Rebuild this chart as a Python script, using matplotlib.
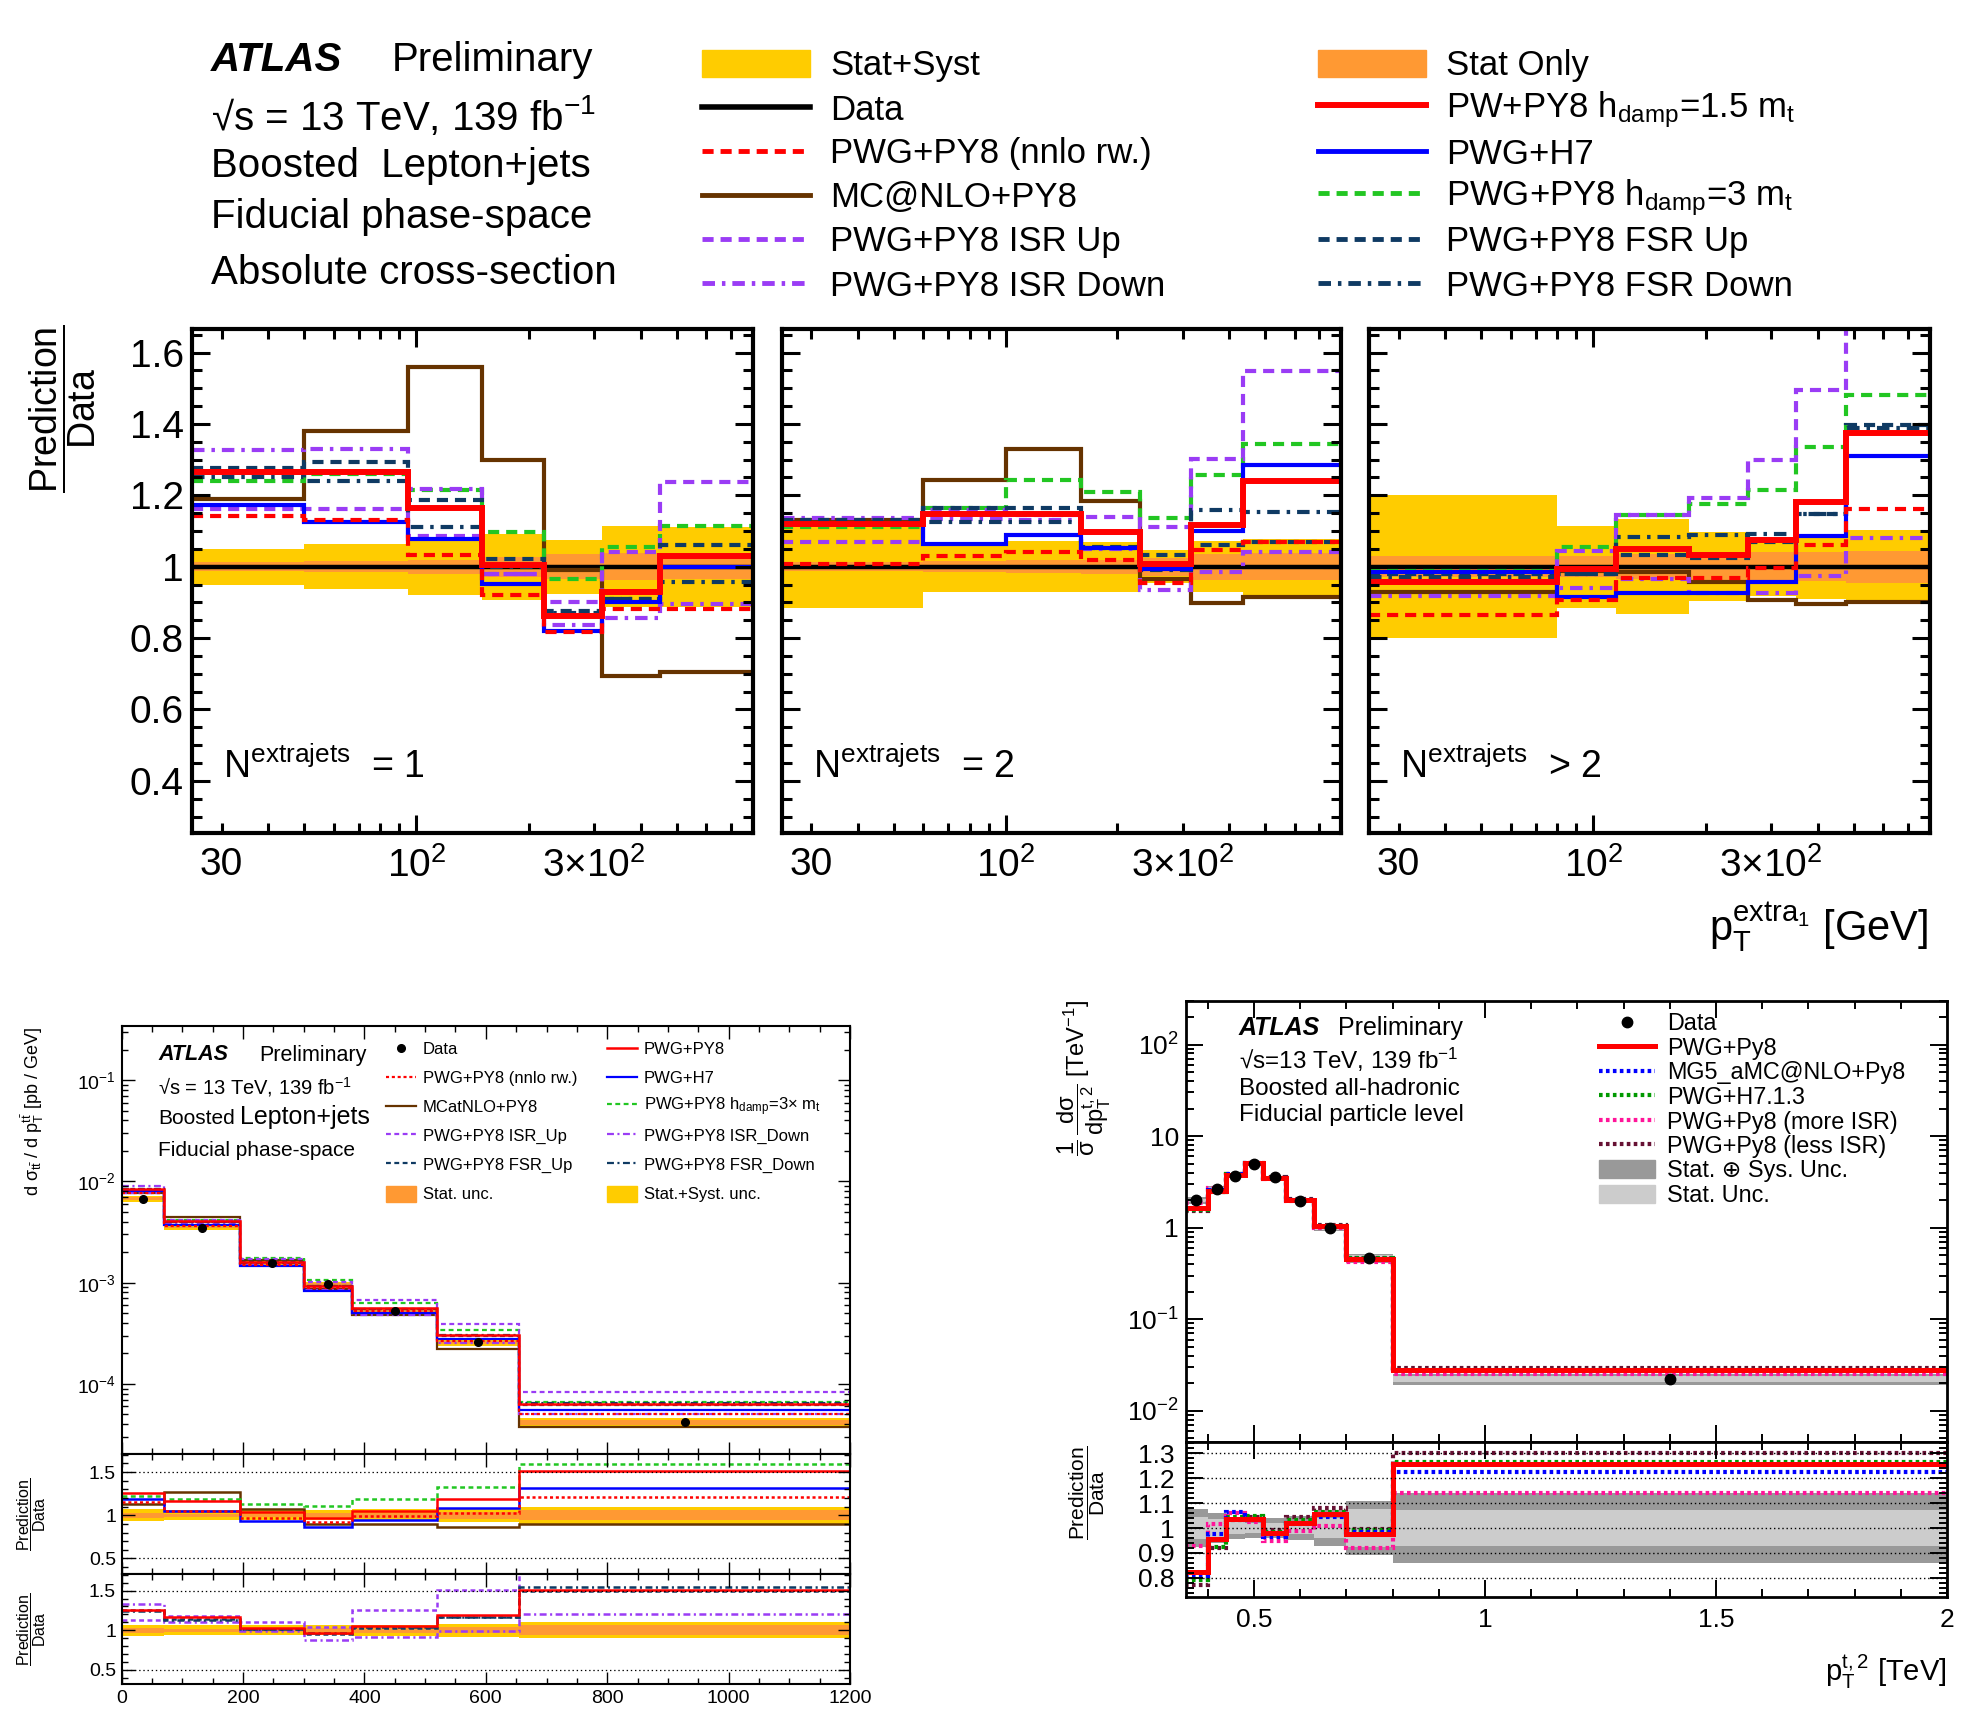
import numpy as np
import matplotlib
matplotlib.use('Agg')
import matplotlib.pyplot as plt
from matplotlib.lines import Line2D
from matplotlib.patches import Patch
from matplotlib.ticker import MultipleLocator, LogLocator, NullFormatter

plt.rcParams['font.family'] = ['Liberation Sans', 'DejaVu Sans']
plt.rcParams['mathtext.default'] = 'regular'
plt.rcParams['lines.scale_dashes'] = False

W, H = 1972, 1709

# ---------------- top: prediction/data vs pT of leading extra jet ----------------
nj_edges = [
    [25, 50, 95, 150, 220, 315, 450, 800],
    [25, 60, 100, 160, 230, 315, 435, 800],
    [25, 80, 115, 180, 260, 350, 475, 800],
]
nj_text = ['= 1', '= 2', '> 2']
top_statsyst = [
    [0.05, 0.063, 0.078, 0.093, 0.076, 0.114, 0.112],
    [0.115, 0.07, 0.072, 0.07, 0.047, 0.072, 0.078],
    [0.2, 0.115, 0.133, 0.097, 0.082, 0.09, 0.102],
]
top_stat = [
    [0.012, 0.015, 0.02, 0.028, 0.035, 0.038, 0.035],
    [0.012, 0.015, 0.018, 0.02, 0.025, 0.037, 0.038],
    [0.03, 0.03, 0.035, 0.04, 0.04, 0.04, 0.045],
]
top_mcnlo = [
    [1.19, 1.38, 1.56, 1.30, 0.99, 0.695, 0.705],
    [1.13, 1.242, 1.329, 1.185, 0.967, 0.897, 0.916],
    [0.93, 0.988, 0.984, 0.958, 0.907, 0.895, 0.902],
]
top_pwpy8 = [
    [1.266, 1.266, 1.165, 1.005, 0.863, 0.928, 1.031],
    [1.121, 1.149, 1.149, 1.098, 1.009, 1.116, 1.24],
    [0.956, 0.993, 1.049, 1.034, 1.075, 1.182, 1.376],
]
top_h7 = [
    [1.174, 1.124, 1.079, 0.951, 0.82, 0.902, 1.0],
    [1.12, 1.065, 1.09, 1.053, 0.995, 1.1, 1.284],
    [0.986, 0.916, 0.927, 0.925, 0.956, 1.087, 1.31],
]
top_nnlo = [
    [1.143, 1.13, 1.033, 0.921, 0.818, 0.882, 0.882],
    [1.009, 1.031, 1.04, 1.019, 0.953, 1.047, 1.068],
    [0.865, 0.907, 0.969, 0.969, 0.997, 1.062, 1.163],
]
top_hdamp3 = [
    [1.24, 1.26, 1.214, 1.098, 0.967, 1.056, 1.115],
    [1.112, 1.165, 1.244, 1.208, 1.137, 1.258, 1.345],
    [0.988, 1.056, 1.144, 1.177, 1.214, 1.336, 1.482],
]
top_isrup = [
    [1.161, 1.161, 1.087, 0.981, 0.90, 1.04, 1.238],
    [1.07, 1.158, 1.144, 1.14, 1.11, 1.303, 1.547],
    [0.96, 1.044, 1.144, 1.193, 1.3, 1.494, 1.668],
]
top_isrdn = [
    [1.326, 1.331, 1.217, 0.981, 0.837, 0.856, 0.895],
    [1.137, 1.135, 1.13, 1.05, 0.935, 0.986, 1.042],
    [0.919, 0.939, 0.967, 0.925, 0.925, 0.975, 1.081],
]
top_fsrup = [
    [1.277, 1.292, 1.188, 1.023, 0.876, 0.91, 1.061],
    [1.13, 1.165, 1.165, 1.056, 1.033, 1.06, 1.07],
    [0.981, 0.981, 1.034, 1.025, 1.07, 1.149, 1.396],
]
top_fsrdn = [
    [1.252, 1.24, 1.11, 1.0, 0.87, 0.91, 0.956],
    [1.12, 1.124, 1.126, 1.053, 0.99, 1.158, 1.154],
    [0.972, 0.98, 1.084, 1.09, 1.093, 1.149, 1.39],
]

# ---------------- bottom left: d sigma / d pT(ttbar), lepton+jets ----------------
bl_edges = [0, 70, 195, 300, 380, 520, 655, 1200]
bl_data = [6.74e-3, 3.5e-3, 1.556e-3, 9.64e-4, 5.29e-4, 2.57e-4, 4.18e-5]
bl_statsyst = [0.07, 0.06, 0.06, 0.06, 0.07, 0.08, 0.1]
bl_stat = [0.03, 0.02, 0.02, 0.025, 0.03, 0.04, 0.06]
bl_pwpy8 = [1.255, 1.169, 1.033, 0.967, 1.053, 1.189, 1.512]
bl_h7 = [1.189, 1.053, 0.936, 0.866, 0.947, 1.084, 1.317]
bl_hdamp3 = [1.227, 1.189, 1.13, 1.111, 1.189, 1.325, 1.59]
bl_nnlo = [1.15, 1.045, 0.967, 0.928, 0.994, 1.021, 1.208]
bl_mcnlo = [1.13, 1.266, 1.072, 0.897, 0.897, 0.866, 0.897]
bl_isrup = [1.13, 1.183, 1.109, 1.043, 1.261, 1.509, 1.98]
bl_isrdn = [1.335, 1.109, 0.987, 0.87, 0.913, 0.987, 1.204]
bl_fsrup = [1.25, 1.14, 1.02, 0.957, 1.03, 1.161, 1.491]
bl_fsrdn = [1.24, 1.13, 1.01, 0.96, 1.04, 1.17, 1.543]

# ---------------- bottom right: 1/sigma d sigma / d pT(t,2), all-hadronic ----------------
br_edges = [0.35, 0.4, 0.44, 0.48, 0.52, 0.57, 0.63, 0.7, 0.8, 2.0]
br_data = [1.99, 2.67, 3.66, 4.9, 3.57, 1.96, 0.98, 0.465, 0.0223]
br_tot = [0.077, 0.06, 0.045, 0.04, 0.04, 0.05, 0.072, 0.11, 0.14]
br_stat = [0.045, 0.036, 0.025, 0.02, 0.02, 0.025, 0.04, 0.075, 0.074]
br_pwpy8 = [0.824, 0.954, 1.036, 1.036, 0.979, 1.021, 1.055, 0.976, 1.259]
br_mg5 = [0.807, 0.975, 1.066, 1.032, 0.965, 1.016, 1.046, 0.985, 1.227]
br_h713 = [0.791, 0.925, 1.046, 1.05, 0.985, 1.032, 1.066, 0.992, 1.265]
br_moreisr = [0.928, 1.016, 1.062, 1.025, 0.949, 0.988, 1.008, 0.918, 1.142]
br_lessisr = [0.771, 0.918, 1.032, 1.043, 0.992, 1.043, 1.079, 0.997, 1.303]

# colours and line styles
YELLOW = '#ffcc00'
ORANGE = '#ff9933'
RED = '#ff0000'
BLUE = '#0000ff'
BROWN = '#663300'
GREEN = '#22c622'
PURPLE = '#9a3cf5'
NAVY = '#0f3a63'
DKGREEN = '#009900'
MAGENTA = '#ff1499'
MAROON = '#661133'
GRAY_D = '#999999'
GRAY_L = '#cccccc'

DASH = (0, (8, 5))
DASHDOT = (0, (9, 5, 2.5, 5))
SDASH = (0, (3.5, 2.5))
SDOT = (0, (2.2, 2))
SDASHDOT = (0, (5, 2.5, 1.5, 2.5))
BDOT = (0, (2.6, 2.4))


def box(x0, y0, x1, y1):
    return [x0 / W, 1 - y1 / H, (x1 - x0) / W, (y1 - y0) / H]


def fy(y):
    return 1 - y / H


def steps(ax, vals, edges, **kw):
    ax.stairs(np.asarray(vals, float), np.asarray(edges, float), baseline=None, **kw)


def band(ax, lo, hi, edges, color):
    ax.stairs(np.asarray(hi, float), np.asarray(edges, float),
              baseline=np.asarray(lo, float), fill=True, color=color, lw=0)


def root_ticks(ax, major, minor, width, size, pad):
    ax.tick_params(which='both', direction='in', top=True, right=True,
                   width=width, labelsize=size, pad=pad)
    ax.tick_params(which='major', length=major)
    ax.tick_params(which='minor', length=minor)


def legend_rows(handles, labels, x, y0, dy, fs, **kw):
    # one entry per row, so the row pitch is fixed whatever the label contains
    for k, (h, lab) in enumerate(zip(handles, labels)):
        fig.legend([h], [lab], loc='center left', bbox_to_anchor=(x / W, fy(y0 + k * dy)),
                   frameon=False, borderpad=0, borderaxespad=0, fontsize=fs, **kw)


fig = plt.figure(figsize=(W / 100, H / 100), dpi=100)

# ================= top block =================
top_x = [(192, 753), (782, 1341), (1369, 1930)]
top_lines = [
    (top_mcnlo, dict(color=BROWN, lw=3.0)),
    (top_hdamp3, dict(color=GREEN, lw=3.0, ls=DASH)),
    (top_isrup, dict(color=PURPLE, lw=3.0, ls=DASH)),
    (top_isrdn, dict(color=PURPLE, lw=3.0, ls=DASHDOT)),
    (top_fsrup, dict(color=NAVY, lw=3.0, ls=DASH)),
    (top_fsrdn, dict(color=NAVY, lw=3.0, ls=DASHDOT)),
    (top_h7, dict(color=BLUE, lw=3.0)),
    (top_nnlo, dict(color=RED, lw=3.0, ls=DASH)),
    (top_pwpy8, dict(color=RED, lw=4.3)),
]
for i in range(3):
    ax = fig.add_axes(box(top_x[i][0], 329, top_x[i][1], 833))
    e = np.array(nj_edges[i], float)
    ss = np.array(top_statsyst[i])
    st = np.array(top_stat[i])
    band(ax, 1 - ss, 1 + ss, e, YELLOW)
    band(ax, 1 - st, 1 + st, e, ORANGE)
    steps(ax, np.ones(len(e) - 1), e, color='black', lw=3.2)
    for vals, style in top_lines:
        steps(ax, vals[i], e, **style)
    ax.set_xscale('log')
    ax.set_xlim(25, 800)
    ax.set_ylim(0.254, 1.666)
    ax.set_xticks([100], labels=[r'$10^{2}$'])
    minors = [30, 40, 50, 60, 70, 80, 90, 200, 300, 400, 500, 600, 700]
    ax.set_xticks(minors, labels=['30' if m == 30 else (r'3$\times10^{2}$' if m == 300 else '')
                                  for m in minors], minor=True)
    ax.set_yticks([0.4, 0.6, 0.8, 1.0, 1.2, 1.4, 1.6],
                  labels=['0.4', '0.6', '0.8', '1', '1.2', '1.4', '1.6'])
    ax.yaxis.set_minor_locator(MultipleLocator(0.05))
    root_ticks(ax, 13, 7, 2.2, 28, 6)
    ax.tick_params(axis='x', which='both', pad=10)
    if i > 0:
        ax.tick_params(labelleft=False)
    for s in ax.spines.values():
        s.set_linewidth(3)
    ax.text(0.055, 0.11, r'$N^{extrajets}$  ' + nj_text[i], transform=ax.transAxes,
            fontsize=27, va='baseline')

fig.text(63 / W, fy(409), r'$\dfrac{Prediction}{Data}$', rotation=90, fontsize=27,
         ha='center', va='center')
fig.text(1928 / W, fy(941), r'$p_{T}^{extra_{1}}$ [GeV]', fontsize=30, ha='right', va='baseline')

fig.text(211 / W, fy(60), 'ATLAS', fontsize=29, fontweight='bold', fontstyle='italic', va='center')
fig.text(392 / W, fy(60), 'Preliminary', fontsize=29, va='center')
fig.text(211 / W, fy(116), '√s = 13 TeV, 139 fb$^{-1}$', fontsize=29, va='center')
fig.text(211 / W, fy(166), 'Boosted  Lepton+jets', fontsize=29, va='center')
fig.text(211 / W, fy(217), 'Fiducial phase-space', fontsize=29, va='center')
fig.text(211 / W, fy(273), 'Absolute cross-section', fontsize=29, va='center')

top_col1 = [Patch(color=YELLOW), Line2D([], [], color='black', lw=4),
            Line2D([], [], color=RED, lw=3.5, ls=DASH), Line2D([], [], color=BROWN, lw=3.5),
            Line2D([], [], color=PURPLE, lw=3.5, ls=DASH), Line2D([], [], color=PURPLE, lw=3.5, ls=DASHDOT)]
top_col1_lab = ['Stat+Syst', 'Data', 'PWG+PY8 (nnlo rw.)', 'MC@NLO+PY8', 'PWG+PY8 ISR Up',
                'PWG+PY8 ISR Down']
top_col2 = [Patch(color=ORANGE), Line2D([], [], color=RED, lw=4.3), Line2D([], [], color=BLUE, lw=3.5),
            Line2D([], [], color=GREEN, lw=3.5, ls=DASH), Line2D([], [], color=NAVY, lw=3.5, ls=DASH),
            Line2D([], [], color=NAVY, lw=3.5, ls=DASHDOT)]
top_col2_lab = ['Stat Only', r'PW+PY8 $h_{damp}$=1.5 $m_{t}$', 'PWG+H7', r'PWG+PY8 $h_{damp}$=3 $m_{t}$',
                'PWG+PY8 FSR Up', 'PWG+PY8 FSR Down']
for hs, ls, x in [(top_col1, top_col1_lab, 702), (top_col2, top_col2_lab, 1318)]:
    legend_rows(hs, ls, x, 66, 44, 25, handlelength=3.1, handleheight=0.85, handletextpad=0.6)

# ================= bottom left =================
bl_e = np.array(bl_edges, float)
bl_d = np.array(bl_data)
bl_c = 0.5 * (bl_e[1:] + bl_e[:-1])
bl_lines_main = [
    (bl_mcnlo, dict(color=BROWN, lw=1.6)),
    (bl_hdamp3, dict(color=GREEN, lw=1.6, ls=SDASH)),
    (bl_isrup, dict(color=PURPLE, lw=1.6, ls=SDASH)),
    (bl_isrdn, dict(color=PURPLE, lw=1.6, ls=SDASHDOT)),
    (bl_fsrup, dict(color=NAVY, lw=1.6, ls=SDASH)),
    (bl_fsrdn, dict(color=NAVY, lw=1.6, ls=SDASHDOT)),
    (bl_h7, dict(color=BLUE, lw=1.6)),
    (bl_nnlo, dict(color=RED, lw=1.6, ls=SDOT)),
    (bl_pwpy8, dict(color=RED, lw=1.8)),
]
ss = np.array(bl_statsyst)
st = np.array(bl_stat)

ax = fig.add_axes(box(121.6, 1026, 850, 1454))
band(ax, bl_d * (1 - ss), bl_d * (1 + ss), bl_e, YELLOW)
band(ax, bl_d * (1 - st), bl_d * (1 + st), bl_e, ORANGE)
for vals, style in bl_lines_main:
    steps(ax, bl_d * np.array(vals), bl_e, **style)
ax.plot(bl_c, bl_d, 'o', color='black', ms=5.5, zorder=5)
ax.set_yscale('log')
ax.set_xlim(0, 1200)
ax.set_ylim(2.03e-5, 0.343)
ax.set_yticks([1e-4, 1e-3, 1e-2, 1e-1], labels=[r'$10^{-4}$', r'$10^{-3}$', r'$10^{-2}$', r'$10^{-1}$'])
ax.yaxis.set_minor_locator(LogLocator(base=10, subs=np.arange(2, 10)))
ax.yaxis.set_minor_formatter(NullFormatter())
ax.xaxis.set_major_locator(MultipleLocator(200))
ax.xaxis.set_minor_locator(MultipleLocator(50))
root_ticks(ax, 9, 4.5, 1.0, 14, 4)
ax.tick_params(labelbottom=False)
for s in ax.spines.values():
    s.set_linewidth(1.5)
fig.text(33 / W, fy(1027), r'd $\sigma_{t\bar{t}}$ / d $p_{T}^{t\bar{t}}$ [pb / GeV]', rotation=90,
         fontsize=13, ha='center', va='top')
fig.text(158 / W, fy(1055), 'ATLAS', fontsize=15.5, fontweight='bold', fontstyle='italic', va='center')
fig.text(259 / W, fy(1055), 'Preliminary', fontsize=15.5, va='center')
fig.text(158 / W, fy(1087), '√s = 13 TeV, 139 fb$^{-1}$', fontsize=14.5, va='center')
fig.text(158 / W, fy(1118), 'Boosted', fontsize=15, va='center')
fig.text(240 / W, fy(1117), 'Lepton+jets', fontsize=18, va='center')
fig.text(158 / W, fy(1150), 'Fiducial phase-space', fontsize=15, va='center')

bl_col1 = [Line2D([], [], color='black', marker='o', ls='none', ms=5.5),
           Line2D([], [], color=RED, lw=1.6, ls=SDOT), Line2D([], [], color=BROWN, lw=1.6),
           Line2D([], [], color=PURPLE, lw=1.6, ls=SDASH), Line2D([], [], color=NAVY, lw=1.6, ls=SDASH),
           Patch(color=ORANGE)]
bl_col1_lab = ['Data', 'PWG+PY8 (nnlo rw.)', 'MCatNLO+PY8', 'PWG+PY8 ISR_Up', 'PWG+PY8 FSR_Up',
               'Stat. unc.']
bl_col2 = [Line2D([], [], color=RED, lw=1.8), Line2D([], [], color=BLUE, lw=1.6),
           Line2D([], [], color=GREEN, lw=1.6, ls=SDASH), Line2D([], [], color=PURPLE, lw=1.6, ls=SDASHDOT),
           Line2D([], [], color=NAVY, lw=1.6, ls=SDASHDOT), Patch(color=YELLOW)]
bl_col2_lab = ['PWG+PY8', 'PWG+H7', r'PWG+PY8 $h_{damp}$=3$\times$ $m_{t}$', 'PWG+PY8 ISR_Down',
               'PWG+PY8 FSR_Down', 'Stat.+Syst. unc.']
for hs, ls, x in [(bl_col1, bl_col1_lab, 386), (bl_col2, bl_col2_lab, 607)]:
    legend_rows(hs, ls, x, 1049, 29, 12, handlelength=1.8, handleheight=1.1, handletextpad=0.4)

bl_ratio_sets = [
    (1454, 1574, [(bl_mcnlo, dict(color=BROWN, lw=1.8)),
                  (bl_hdamp3, dict(color=GREEN, lw=1.8, ls=SDASH)),
                  (bl_h7, dict(color=BLUE, lw=1.8)),
                  (bl_nnlo, dict(color=RED, lw=1.8, ls=SDOT)),
                  (bl_pwpy8, dict(color=RED, lw=1.8))]),
    (1574, 1684, [(bl_isrup, dict(color=PURPLE, lw=1.8, ls=SDASH)),
                  (bl_isrdn, dict(color=PURPLE, lw=1.8, ls=SDASHDOT)),
                  (bl_fsrup, dict(color=NAVY, lw=1.8, ls=SDASH)),
                  (bl_fsrdn, dict(color=NAVY, lw=1.8, ls=SDASHDOT)),
                  (bl_pwpy8, dict(color=RED, lw=1.8))]),
]
for k, (y0, y1, lines) in enumerate(bl_ratio_sets):
    ax = fig.add_axes(box(121.6, y0, 850, y1))
    band(ax, 1 - ss, 1 + ss, bl_e, YELLOW)
    band(ax, 1 - st, 1 + st, bl_e, ORANGE)
    for yv in (0.5, 1.5):
        ax.axhline(yv, color='black', lw=0.9, ls=(0, (1, 2)))
    for vals, style in lines:
        steps(ax, vals, bl_e, **style)
    ax.set_xlim(0, 1200)
    ax.set_ylim(0.32, 1.71)
    ax.set_yticks([0.5, 1.0, 1.5], labels=['0.5', '1', '1.5'])
    ax.yaxis.set_minor_locator(MultipleLocator(0.1))
    ax.xaxis.set_major_locator(MultipleLocator(200))
    ax.xaxis.set_minor_locator(MultipleLocator(50))
    root_ticks(ax, 9, 4.5, 1.0, 14, 4)
    if k == 0:
        ax.tick_params(labelbottom=False)
    for s in ax.spines.values():
        s.set_linewidth(1.5)
    fig.text(32 / W, fy((y0 + y1) / 2), r'$\dfrac{Prediction}{Data}$', rotation=90, fontsize=11.5,
             ha='center', va='center')

# ================= bottom right =================
br_e = np.array(br_edges, float)
br_d = np.array(br_data)
br_c = 0.5 * (br_e[1:] + br_e[:-1])
tt = np.array(br_tot)
sta = np.array(br_stat)
br_lines = [
    (br_lessisr, dict(color=MAROON, lw=3.0, ls=BDOT)),
    (br_moreisr, dict(color=MAGENTA, lw=3.0, ls=BDOT)),
    (br_h713, dict(color=DKGREEN, lw=3.0, ls=BDOT)),
    (br_mg5, dict(color=BLUE, lw=3.0, ls=BDOT)),
    (br_pwpy8, dict(color=RED, lw=3.6)),
]

ax = fig.add_axes(box(1186, 1000.6, 1947, 1441.7))
band(ax, br_d * (1 - tt), br_d * (1 + tt), br_e, GRAY_D)
band(ax, br_d * (1 - sta), br_d * (1 + sta), br_e, GRAY_L)
for vals, style in br_lines:
    steps(ax, br_d * np.array(vals), br_e, **style)
ax.plot(br_c, br_d, 'o', color='black', ms=7.5, zorder=5)
ax.set_yscale('log')
ax.set_xlim(0.353, 2.0)
ax.set_ylim(4.6e-3, 302)
ax.set_yticks([1e-2, 1e-1, 1, 10, 100], labels=[r'$10^{-2}$', r'$10^{-1}$', '1', '10', r'$10^{2}$'])
ax.yaxis.set_minor_locator(LogLocator(base=10, subs=np.arange(2, 10)))
ax.yaxis.set_minor_formatter(NullFormatter())
ax.xaxis.set_major_locator(MultipleLocator(0.5))
ax.xaxis.set_minor_locator(MultipleLocator(0.1))
root_ticks(ax, 12, 6, 1.4, 19, 5)
ax.tick_params(labelbottom=False)
for s in ax.spines.values():
    s.set_linewidth(2)
fig.text(1084 / W, fy(1000), r'$\dfrac{1}{\sigma}\,\dfrac{d\sigma}{dp_{T}^{t,2}}$ [TeV$^{-1}$]',
         rotation=90, fontsize=17, ha='center', va='top')
fig.text(1239 / W, fy(1028), 'ATLAS', fontsize=18, fontweight='bold', fontstyle='italic', va='center')
fig.text(1338 / W, fy(1028), 'Preliminary', fontsize=18, va='center')
fig.text(1239 / W, fy(1060), '√s=13 TeV, 139 fb$^{-1}$', fontsize=17.5, va='center')
fig.text(1239 / W, fy(1089), 'Boosted all-hadronic', fontsize=17.5, va='center')
fig.text(1239 / W, fy(1115), 'Fiducial particle level', fontsize=17.5, va='center')

br_hand = [Line2D([], [], color='black', marker='o', ls='none', ms=7.5),
           Line2D([], [], color=RED, lw=3.6), Line2D([], [], color=BLUE, lw=3.0, ls=BDOT),
           Line2D([], [], color=DKGREEN, lw=3.0, ls=BDOT), Line2D([], [], color=MAGENTA, lw=3.0, ls=BDOT),
           Line2D([], [], color=MAROON, lw=3.0, ls=BDOT), Patch(color=GRAY_D), Patch(color=GRAY_L)]
br_lab = ['Data', 'PWG+Py8', 'MG5_aMC@NLO+Py8', 'PWG+H7.1.3', 'PWG+Py8 (more ISR)',
          'PWG+Py8 (less ISR)', 'Stat. ⊕ Sys. Unc.', 'Stat. Unc.']
legend_rows(br_hand, br_lab, 1599, 1024, 24.5, 16.8, handlelength=2.4, handleheight=0.8,
            handletextpad=0.5)

ax = fig.add_axes(box(1186, 1441.7, 1947, 1596.7))
band(ax, 1 - tt, 1 + tt, br_e, GRAY_D)
band(ax, 1 - sta, 1 + sta, br_e, GRAY_L)
for yv in (0.8, 0.9, 1.0, 1.1, 1.2, 1.3):
    ax.axhline(yv, color='black', lw=1.0, ls=(0, (1, 2)))
for vals, style in br_lines:
    steps(ax, vals, br_e, **style)
ax.set_xlim(0.353, 2.0)
ax.set_ylim(0.724, 1.347)
ax.set_yticks([0.8, 0.9, 1.0, 1.1, 1.2, 1.3], labels=['0.8', '0.9', '1', '1.1', '1.2', '1.3'])
ax.yaxis.set_minor_locator(MultipleLocator(0.02))
ax.set_xticks([0.5, 1.0, 1.5, 2.0], labels=['0.5', '1', '1.5', '2'])
ax.xaxis.set_minor_locator(MultipleLocator(0.1))
root_ticks(ax, 12, 6, 1.4, 19, 8)
for s in ax.spines.values():
    s.set_linewidth(2)
fig.text(1087 / W, fy(1493), r'$\dfrac{Prediction}{Data}$', rotation=90, fontsize=15,
         ha='center', va='center')
fig.text(1947 / W, fy(1672), r'$p_{T}^{t,2}$ [TeV]', fontsize=21, ha='right', va='center')

fig.savefig('out.png', dpi=100)
